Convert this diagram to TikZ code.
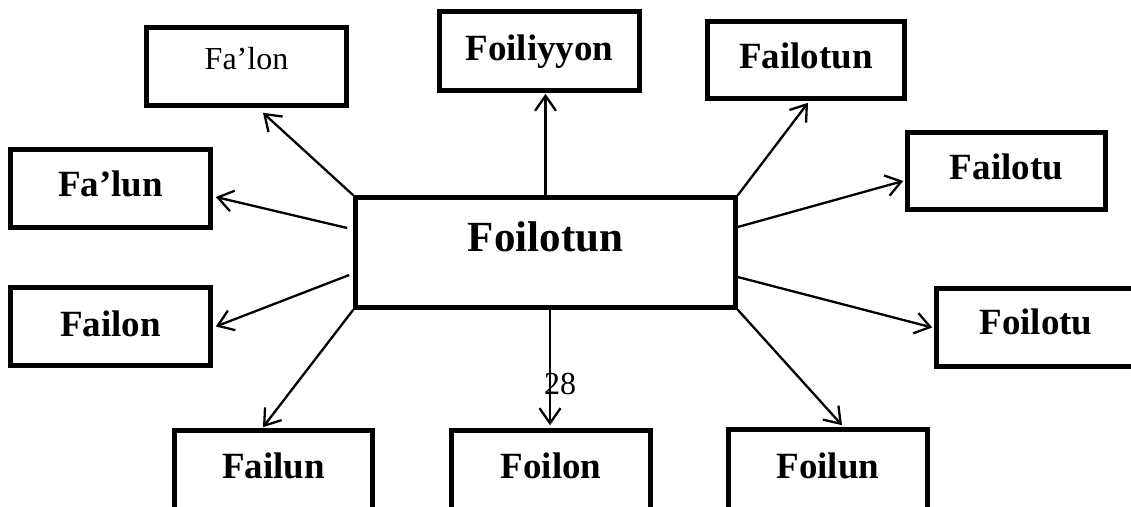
\documentclass[tikz,border=0pt]{standalone}
\usepackage{fontspec}
\setmainfont{Liberation Serif}
\usetikzlibrary{arrows.meta}
\begin{document}
\begin{tikzpicture}[x=1pt,y=-1pt,
  bx/.style={draw, line width=4.6pt, rectangle, inner sep=0pt, align=center,
    font=\bfseries\fontsize{37}{37}\selectfont},
  arr/.style={line width=2.3pt, -{Straight Barb[length=15pt,width=21pt,line width=2.3pt]}},
]
\clip (0,0) rectangle (1131,506);
\fill[white] (0,0) rectangle (1131,506);

% centre
\node[bx, minimum width=380pt, minimum height=110pt, text height=18.5pt, text depth=21.5pt,
  font=\bfseries\fontsize{43}{43}\selectfont] (c) at (545.5,252.5) {Foilotun};

% surrounding boxes
\node[bx, minimum width=200pt, minimum height=78pt, text height=22.5pt, text depth=17.5pt,
  font=\fontsize{32}{32}\selectfont] (falon) at (246.5,66.5) {Fa’lon};
\node[bx, minimum width=200pt, minimum height=79pt, text height=29pt, text depth=11pt] (foiliyyon) at (539.5,51) {Foiliyyon};
\node[bx, minimum width=197pt, minimum height=77pt, text height=28pt, text depth=12pt] (failotun) at (806,60) {Failotun};
\node[bx, minimum width=198pt, minimum height=77pt, text height=28pt, text depth=12pt] (failotu) at (1006.5,171) {Failotu};
\node[bx, minimum width=200pt, minimum height=78pt, text height=27.5pt, text depth=12.5pt] (falun) at (110.5,188.5) {Fa’lun};
\node[bx, minimum width=200pt, minimum height=78pt, text height=29.5pt, text depth=10.5pt] (failon) at (110.5,326.5) {Failon};
\node[bx, minimum width=199pt, minimum height=78pt, text height=26.5pt, text depth=13.5pt] (foilotu) at (1036,327.5) {Foilotu};
\node[bx, minimum width=198pt, minimum height=87pt, text height=24pt, text depth=16pt] (failun) at (273.5,474) {Failun};
\node[bx, minimum width=199pt, minimum height=87pt, text height=24pt, text depth=16pt] (foilon) at (551,474) {Foilon};
\node[bx, minimum width=199pt, minimum height=88pt, text height=24.5pt, text depth=15.5pt] (foilun) at (828,473.5) {Foilun};

% page number
\node[anchor=base, inner sep=0pt, font=\fontsize{32}{32}\selectfont] (pg) at (560,394) {28};

% connectors
\draw[arr] (c.north west) -- ([xshift=16.5pt,yshift=-5pt]falon.south);
\draw[arr] ([xshift=-6pt,yshift=24.5pt]c.west) -- ([xshift=3pt,yshift=-8.5pt]falun.east);
\draw[arr] (c.north) -- ([yshift=-1pt]c.north |- foiliyyon.south);
\draw[arr] (c.north east) -- ([xshift=2pt,yshift=-2pt]failotun.south);
\draw[arr] ([yshift=25.5pt]c.east) -- ([xshift=-2pt,yshift=-10pt]failotu.west);
\draw[arr] ([xshift=-4pt,yshift=-22.5pt]c.west) -- ([xshift=3pt]failon.east);
\draw[arr] ([yshift=-24.5pt]c.east) -- ([xshift=-2pt]foilotu.west);
\draw[arr] (c.south west) -- ([xshift=-10.5pt,yshift=1pt]failun.north);
\draw[arr] ([xshift=4.5pt]c.south) -- ([xshift=4.5pt,yshift=3pt]c.south |- foilon.north);
\draw[arr] (c.south east) -- ([xshift=14pt,yshift=2pt]foilun.north);
\end{tikzpicture}
\end{document}
